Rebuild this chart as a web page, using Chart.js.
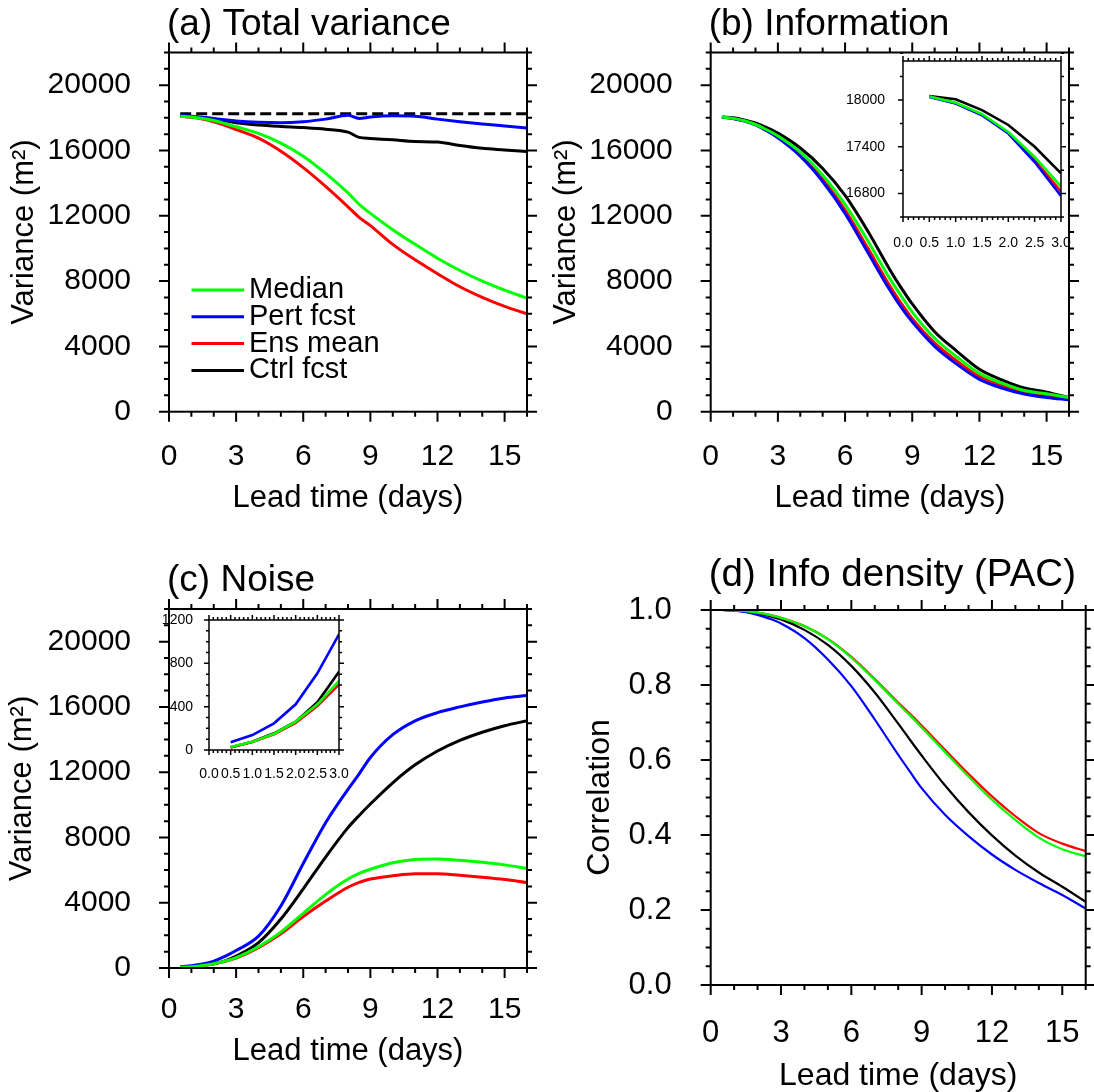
<!doctype html>
<html>
<head>
<meta charset="utf-8">
<title>Total variance, information, noise and info density by lead time</title>
<style>
  html, body { margin: 0; background: #fff; overflow: hidden; width: 1094px; height: 1092px; }
  canvas { position: absolute; }
</style>
</head>
<body>
<canvas id="panelA" width="548" height="530" style="left:0;top:0"></canvas>
<canvas id="panelB" width="549" height="530" style="left:545px;top:0"></canvas>
<canvas id="panelC" width="548" height="530" style="left:0;top:556px"></canvas>
<canvas id="panelD" width="580" height="545" style="left:545px;top:556px"></canvas>
<canvas id="insetB" width="260" height="220" style="left:830px;top:30px"></canvas>
<canvas id="insetC" width="220" height="190" style="left:140px;top:590px"></canvas>

<script src="https://cdn.jsdelivr.net/npm/chart.js@4"></script>
<script>
// ---- data ----
var leadDays = [0.5, 1, 1.5, 2, 2.5, 3, 4, 5, 6, 7, 8, 8.5, 9, 10, 11, 12, 13, 14, 15, 16]
var seriesNames = ['Median', 'Pert fcst', 'Ens mean', 'Ctrl fcst']

// (a) total variance, m^2
var totMedian = [18100, 18050, 17960, 17830, 17650, 17450, 17050, 16450, 15650, 14600, 13400, 12700, 12150, 11150, 10250, 9400, 8650, 8000, 7450, 6950]
var totPert   = [18130, 18100, 18040, 17960, 17880, 17810, 17730, 17700, 17760, 17920, 18150, 17960, 18050, 18120, 18100, 17920, 17760, 17620, 17500, 17380]
var totEns    = [18100, 18030, 17920, 17760, 17540, 17280, 16750, 15950, 14950, 13800, 12550, 11900, 11400, 10250, 9300, 8450, 7650, 7000, 6450, 6000]
var totCtrl   = [18100, 18060, 18010, 17930, 17820, 17700, 17560, 17470, 17400, 17300, 17120, 16800, 16740, 16650, 16550, 16520, 16300, 16130, 16030, 15930]
var climVariance = 18250

// (b) information, m^2
var infoMedian = [18045, 17965, 17820, 17590, 17270, 16890, 15900, 14500, 12700, 10500, 8150, 7100, 6100, 4500, 3350, 2350, 1750, 1300, 1100, 860]
var infoPert   = [18040, 17955, 17805, 17570, 17205, 16770, 15650, 14100, 12150, 9800, 7450, 6400, 5500, 4000, 2900, 1980, 1450, 1080, 870, 730]
var infoEns    = [18045, 17960, 17810, 17580, 17230, 16825, 15750, 14250, 12350, 10050, 7700, 6650, 5700, 4200, 3100, 2150, 1600, 1200, 990, 790]
var infoCtrl   = [18050, 18010, 17870, 17680, 17400, 17060, 16150, 14900, 13250, 11100, 8700, 7600, 6600, 4900, 3700, 2600, 1950, 1450, 1200, 870]

// (c) noise, m^2
var noiseMedian = [28, 75, 150, 262, 422, 637, 1300, 2200, 3350, 4500, 5450, 5800, 6050, 6450, 6650, 6680, 6600, 6480, 6320, 6100]
var noisePert   = [71, 138, 246, 422, 708, 1068, 1950, 3800, 6400, 8900, 10950, 11900, 12900, 14300, 15150, 15650, 16000, 16300, 16550, 16700]
var noiseEns    = [26, 73, 145, 250, 405, 606, 1250, 2100, 3150, 4100, 4950, 5250, 5450, 5650, 5780, 5780, 5680, 5560, 5420, 5230]
var noiseCtrl   = [22, 77, 154, 262, 440, 723, 1550, 3000, 4850, 6800, 8600, 9350, 10050, 11350, 12450, 13300, 13950, 14450, 14850, 15150]

// (d) info density (PAC), correlation
var pacMedian = [1.0, 0.999, 0.997, 0.993, 0.987, 0.979, 0.957, 0.922, 0.873, 0.813, 0.750, 0.719, 0.687, 0.621, 0.556, 0.494, 0.440, 0.393, 0.362, 0.343]
var pacPert   = [1.0, 0.998, 0.994, 0.987, 0.977, 0.964, 0.925, 0.868, 0.797, 0.708, 0.614, 0.569, 0.525, 0.454, 0.397, 0.348, 0.307, 0.272, 0.240, 0.204]
var pacEns    = [1.0, 0.999, 0.997, 0.993, 0.987, 0.979, 0.957, 0.923, 0.875, 0.816, 0.753, 0.723, 0.692, 0.627, 0.563, 0.503, 0.450, 0.405, 0.377, 0.357]
var pacCtrl   = [1.0, 0.999, 0.996, 0.991, 0.984, 0.975, 0.947, 0.907, 0.851, 0.780, 0.697, 0.654, 0.612, 0.532, 0.461, 0.399, 0.345, 0.300, 0.262, 0.222]

// tick labels
var dayTicks = [0, 3, 6, 9, 12, 15]
var varianceTicks = [0, 4000, 8000, 12000, 16000, 20000]
var corrTicks = [0, 0.2, 0.4, 0.6, 0.8, 1.0]
var insetDayTicks = [0, 0.5, 1, 1.5, 2, 2.5, 3]
var infoInsetTicks = [16800, 17400, 18000]
var noiseInsetTicks = [0, 400, 800, 1200]

// ---- drawing ----
var FONT = '"Liberation Sans", Arial, Helvetica, sans-serif'
var lineColors = ['#00ff00', '#0000ff', '#ff0000', '#000000']
Chart.defaults.font.family = FONT
Chart.defaults.color = '#000'

var points = function(vals, n) {
  var days = n ? leadDays.slice(0, n) : leadDays
  return days.map(function(d, i) { return {x: d, y: vals[i]} })
}

var seriesSets = function(list, width, n) {
  return list.map(function(vals, i) {
    return {
      label: seriesNames[i], data: points(vals, n),
      borderColor: lineColors[i], borderWidth: width,
      cubicInterpolationMode: n ? 'default' : 'monotone'
    }
  })
}

// frame round the plot, outward major/minor ticks on all four sides
var frameTicks = {
  id: 'frameTicks',
  beforeDraw: function(chart, args, o) {
    if (!o.bg) return
    var a = chart.chartArea
    chart.ctx.fillStyle = o.bg
    chart.ctx.fillRect(a.left, a.top, a.right - a.left, a.bottom - a.top)
  },
  afterDatasetsDraw: function(chart, args, o) {
    var ctx = chart.ctx, a = chart.chartArea
    var xs = chart.scales.x, ys = chart.scales.y
    ctx.save()
    ctx.strokeStyle = '#000'
    ctx.lineWidth = o.width
    ctx.strokeRect(a.left, a.top, a.right - a.left, a.bottom - a.top)
    ctx.beginPath()
    var mark = function(scale, vals, len) {
      vals.forEach(function(v) {
        var p = scale.getPixelForValue(v)
        if (scale.isHorizontal()) {
          ctx.moveTo(p, a.bottom); ctx.lineTo(p, a.bottom + len)
          ctx.moveTo(p, a.top); ctx.lineTo(p, a.top - len)
        } else {
          ctx.moveTo(a.left, p); ctx.lineTo(a.left - len, p)
          ctx.moveTo(a.right, p); ctx.lineTo(a.right + len, p)
        }
      })
    }
    var steps = function(scale, step) {
      var out = [], n = Math.round((scale.max - scale.min) / step)
      for (var i = 0; i <= n; i++) out.push(scale.min + i * step)
      return out
    }
    mark(xs, steps(xs, o.xMinor), o.minorLen)
    mark(ys, steps(ys, o.yMinor), o.minorLen)
    mark(xs, xs.ticks.map(function(t) { return t.value }), o.majorLen)
    mark(ys, ys.ticks.map(function(t) { return t.value }), o.majorLen)
    ctx.stroke()
    ctx.restore()
  }
}

// panel heading above the frame
var panelTitle = {
  id: 'panelTitle',
  afterDraw: function(chart, args, o) {
    if (!o.text) return
    var ctx = chart.ctx
    ctx.save()
    ctx.font = o.size + 'px ' + FONT
    ctx.fillStyle = '#000'
    ctx.textBaseline = 'alphabetic'
    ctx.fillText(o.text, chart.chartArea.left + o.dx, chart.chartArea.top - o.rise)
    ctx.restore()
  }
}

// legend inside the plot (panel a only)
var innerLegend = {
  id: 'innerLegend',
  afterDraw: function(chart, args, o) {
    if (!o.show) return
    var ctx = chart.ctx, a = chart.chartArea
    var x0 = a.left + o.dx, y0 = a.top + o.dy
    ctx.save()
    ctx.font = o.size + 'px ' + FONT
    ctx.fillStyle = '#000'
    ctx.textBaseline = 'middle'
    chart.data.datasets.filter(function(ds) { return ds.label }).forEach(function(ds, i) {
      var y = y0 + i * o.gap
      ctx.strokeStyle = ds.borderColor
      ctx.lineWidth = ds.borderWidth
      ctx.beginPath(); ctx.moveTo(x0, y); ctx.lineTo(x0 + o.lineLen, y); ctx.stroke()
      ctx.fillText(ds.label, x0 + o.lineLen + o.textGap, y)
    })
    ctx.restore()
  }
}

var makePanel = function(id, s) {
  return new Chart(document.getElementById(id), {
    type: 'line',
    data: {datasets: s.datasets},
    options: {
      responsive: false,
      animation: false,
      layout: {padding: s.pad},
      elements: {point: {radius: 0}, line: {tension: 0, fill: false}},
      scales: {
        x: {
          type: 'linear', min: s.xMin, max: s.xMax,
          afterBuildTicks: function(sc) { sc.ticks = s.xTicks.map(function(v) { return {value: v} }) },
          afterFit: function(sc) { sc.height = s.xBox },
          grid: {display: false}, border: {display: false},
          ticks: {padding: s.xPad, autoSkip: false, maxRotation: 0, font: {size: s.tickSize}, callback: s.xFmt},
          title: s.xTitle ? {display: true, text: s.xTitle, font: {size: s.axisSize}, padding: {top: 0, bottom: s.xTitlePad}} : {display: false}
        },
        y: {
          type: 'linear', min: s.yMin, max: s.yMax,
          afterBuildTicks: function(sc) { sc.ticks = s.yTicks.map(function(v) { return {value: v} }) },
          afterFit: function(sc) { sc.width = s.yBox },
          grid: {display: false}, border: {display: false},
          ticks: {padding: s.yPad, font: {size: s.tickSize}, callback: s.yFmt},
          title: s.yTitle ? {display: true, text: s.yTitle, font: {size: s.axisSize}, padding: {top: s.yTitlePad, bottom: 0}} : {display: false}
        }
      },
      plugins: {
        legend: {display: false},
        tooltip: {enabled: false},
        frameTicks: s.frame,
        panelTitle: s.title || {},
        innerLegend: s.legend || {}
      }
    },
    plugins: [frameTicks, panelTitle, innerLegend]
  })
}

var plain = function(v) { return String(v) }
var oneDec = function(v) { return v.toFixed(1) }
var mainFrame = {width: 2, majorLen: 10, minorLen: 5, xMinor: 1, yMinor: 1000}

// (a)
var setsA = seriesSets([totMedian, totPert, totEns, totCtrl], 3)
setsA.push({
  label: '', data: [{x: leadDays[0], y: climVariance}, {x: leadDays[leadDays.length - 1], y: climVariance}],
  borderColor: '#000', borderWidth: 3, borderDash: [11, 5]
})
makePanel('panelA', {
  datasets: setsA, pad: {top: 52.5, right: 21, bottom: 0, left: 0},
  xMin: 0, xMax: 16, xTicks: dayTicks, xBox: 118.3, xPad: 19, xFmt: plain,
  yMin: 0, yMax: 22000, yTicks: varianceTicks, yBox: 169, yPad: 30, yFmt: plain,
  tickSize: 30, axisSize: 31,
  xTitle: 'Lead time (days)', xTitlePad: 13, yTitle: 'Variance (m²)', yTitlePad: 6,
  frame: mainFrame,
  title: {text: '(a) Total variance', size: 37, dx: -2, rise: 18},
  legend: {show: true, dx: 22.5, dy: 237.5, gap: 26.8, lineLen: 52.5, textGap: 5, size: 29}
})

// (b)
makePanel('panelB', {
  datasets: seriesSets([infoMedian, infoPert, infoEns, infoCtrl], 3),
  pad: {top: 52.5, right: 25, bottom: 0, left: 0},
  xMin: 0, xMax: 16, xTicks: dayTicks, xBox: 118.3, xPad: 19, xFmt: plain,
  yMin: 0, yMax: 22000, yTicks: varianceTicks, yBox: 165.7, yPad: 30, yFmt: plain,
  tickSize: 30, axisSize: 31,
  xTitle: 'Lead time (days)', xTitlePad: 13, yTitle: 'Variance (m²)', yTitlePad: 3,
  frame: mainFrame,
  title: {text: '(b) Information', size: 37, dx: -2, rise: 18}
})

// (c)
makePanel('panelC', {
  datasets: seriesSets([noiseMedian, noisePert, noiseEns, noiseCtrl], 3),
  pad: {top: 53, right: 21, bottom: 0, left: 0},
  xMin: 0, xMax: 16, xTicks: dayTicks, xBox: 118, xPad: 16, xFmt: plain,
  yMin: 0, yMax: 22000, yTicks: varianceTicks, yBox: 169, yPad: 30, yFmt: plain,
  tickSize: 30, axisSize: 31,
  xTitle: 'Lead time (days)', xTitlePad: 16, yTitle: 'Variance (m²)', yTitlePad: 4,
  frame: mainFrame,
  title: {text: '(c) Noise', size: 37, dx: -2, rise: 18}
})

// (d)
makePanel('panelD', {
  datasets: seriesSets([pacMedian, pacPert, pacEns, pacCtrl], 2.2),
  pad: {top: 54, right: 39.3, bottom: 0, left: 0},
  xMin: 0, xMax: 16, xTicks: dayTicks, xBox: 116, xPad: 22, xFmt: plain,
  yMin: 0, yMax: 1, yTicks: corrTicks, yBox: 165.7, yPad: 31, yFmt: oneDec,
  tickSize: 31, axisSize: 32,
  xTitle: 'Lead time (days)', xTitlePad: 6, yTitle: 'Correlation', yTitlePad: 36,
  frame: {width: 2, majorLen: 10, minorLen: 5, xMinor: 1, yMinor: 0.05},
  title: {text: '(d) Info density (PAC)', size: 38.5, dx: -2, rise: 24}
})

// inset of (b): first three days
makePanel('insetB', {
  datasets: seriesSets([infoMedian, infoPert, infoEns, infoCtrl], 2.6, 6),
  pad: {top: 31, right: 29, bottom: 0, left: 0},
  xMin: 0, xMax: 3, xTicks: insetDayTicks, xBox: 33, xPad: 10, xFmt: oneDec,
  yMin: 16500, yMax: 18500, yTicks: infoInsetTicks, yBox: 73, yPad: 10, yFmt: plain,
  tickSize: 14,
  frame: {width: 1.5, majorLen: 5, minorLen: 3, xMinor: 0.1, yMinor: 300, bg: '#fff'}
})

// inset of (c): first three days
makePanel('insetC', {
  datasets: seriesSets([noiseMedian, noisePert, noiseEns, noiseCtrl], 2.6, 6),
  pad: {top: 30, right: 21, bottom: 0, left: 0},
  xMin: 0, xMax: 3, xTicks: insetDayTicks, xBox: 30, xPad: 8, xFmt: oneDec,
  yMin: 0, yMax: 1200, yTicks: noiseInsetTicks, yBox: 69, yPad: 8, yFmt: plain,
  tickSize: 14,
  frame: {width: 1.5, majorLen: 5, minorLen: 3, xMinor: 0.1, yMinor: 100, bg: '#fff'}
})
</script>
</body>
</html>
